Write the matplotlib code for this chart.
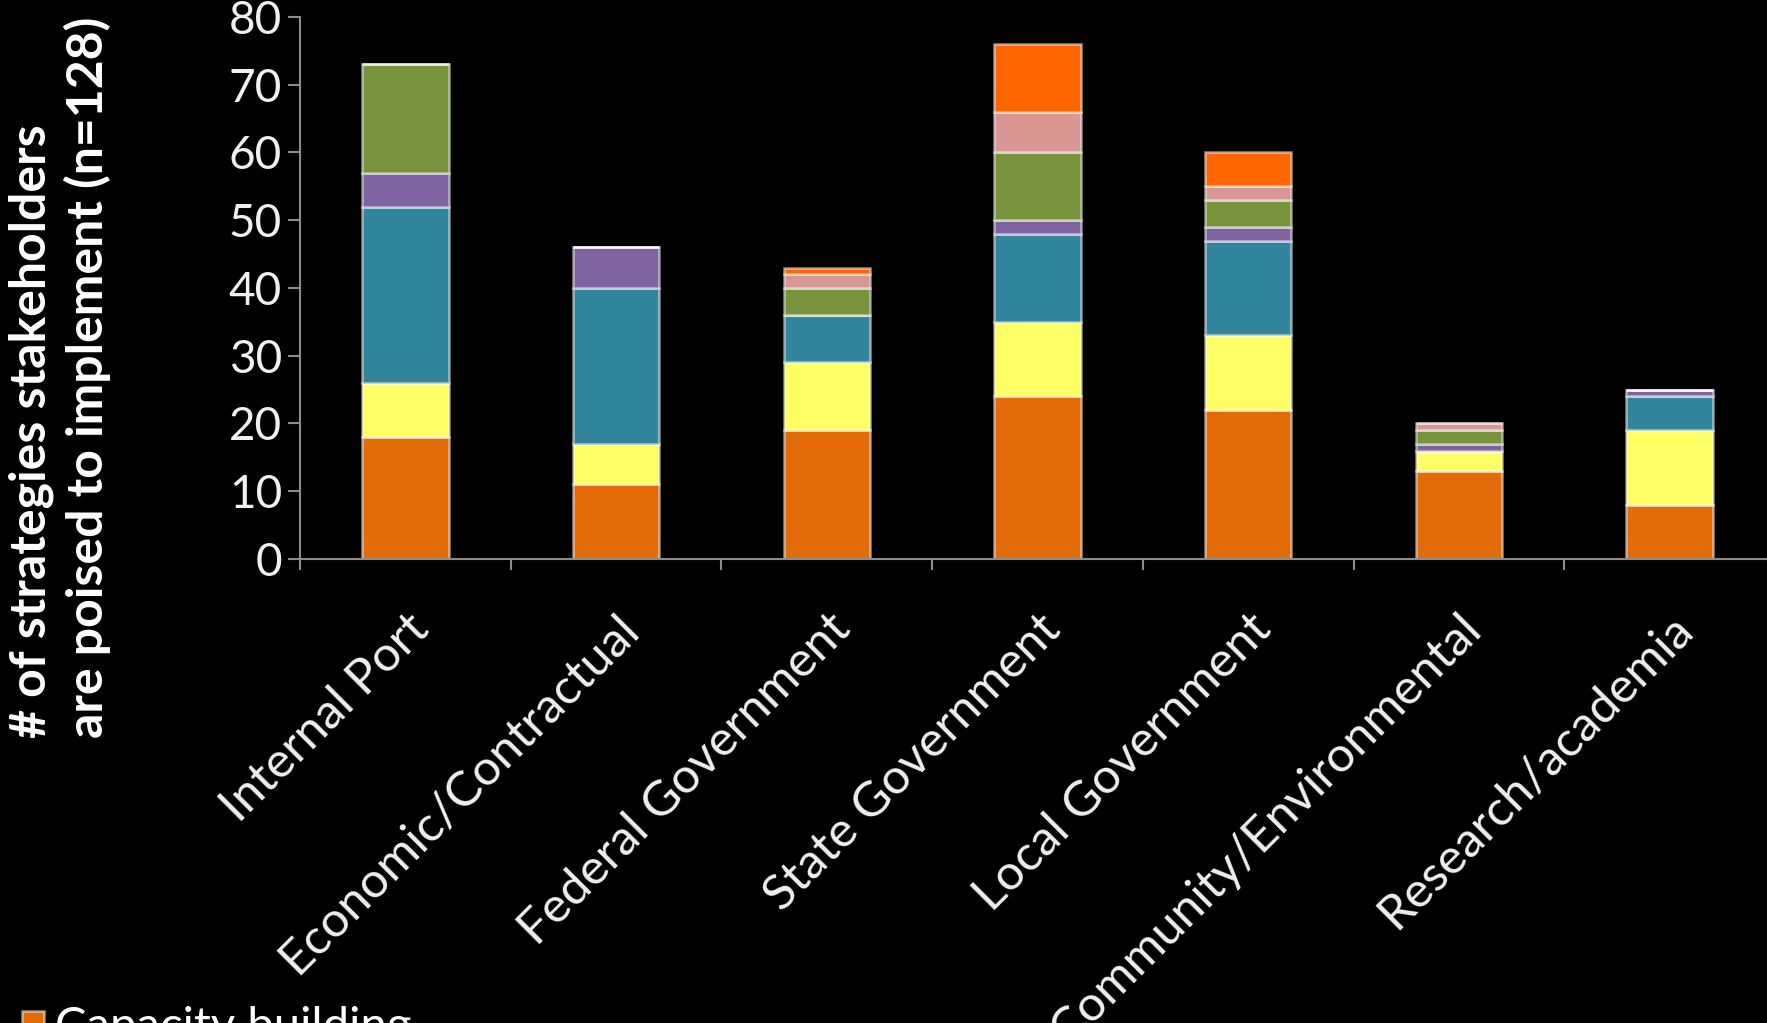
import matplotlib
matplotlib.use("Agg")
import matplotlib.pyplot as plt
import matplotlib.transforms as mtransforms
import numpy as np

plt.rcParams['font.family'] = ['Lato', 'DejaVu Sans']

categories = ['Internal Port', 'Economic/Contractual', 'Federal Government',
              'State Government', 'Local Government', 'Community/Environmental',
              'Research/academia']

# stacked segments, bottom to top
capacity = [18, 11, 19, 24, 22, 13, 8]
s_yellow = [8, 6, 10, 11, 11, 3, 11]
s_teal = [26, 23, 7, 13, 14, 0, 5]
s_purple = [5, 6, 0, 2, 2, 1, 1]
s_green = [16, 0, 4, 10, 4, 2, 0]
s_pink = [0, 0, 2, 6, 2, 1, 0]
s_orange = [0, 0, 1, 10, 5, 0, 0]

series = [capacity, s_yellow, s_teal, s_purple, s_green, s_pink, s_orange]
names = ['Capacity building', 'Series 2', 'Series 3', 'Series 4',
         'Series 5', 'Series 6', 'Series 7']
colors = ['#E36C09', '#FFFF66', '#31859C', '#8064A2', '#77933C', '#D99694', '#FF6600']

fig = plt.figure(figsize=(17.67, 10.23), dpi=100, facecolor='black')
ax = fig.add_axes([0.1698, 0.4536, 0.8347, 0.5298])
ax.set_facecolor('black')

x = np.arange(len(categories))
bottom = np.zeros(len(categories))
handles = []
for vals, name, c in zip(series, names, colors):
    b = ax.bar(x, vals, width=0.41, bottom=bottom, color=c,
               edgecolor=(1, 1, 1, 0.55), linewidth=1.8, label=name)
    handles.append(b)
    bottom += np.array(vals)

ax.set_xlim(-0.5, len(categories) - 0.5)
ax.set_ylim(0, 80)
ax.set_yticks(range(0, 81, 10))
ax.tick_params(axis='y', colors='#8c8c8c', labelcolor='#f0f0f0',
               labelsize=33, length=9, width=1.5, direction='out', pad=4)
ax.set_xticks(x)
ax.set_xticklabels(categories, rotation=45, ha='right', rotation_mode='anchor',
                   fontsize=35.5, color='#f0f0f0')
shift = mtransforms.ScaledTranslation(-0.1, 0, fig.dpi_scale_trans)
for lab in ax.get_xticklabels():
    lab.set_transform(lab.get_transform() + shift)
ax.set_xticks(np.arange(len(categories) + 1) - 0.5, minor=True)
ax.tick_params(axis='x', which='major', length=0, pad=34)
ax.tick_params(axis='x', which='minor', colors='#8c8c8c', length=8, width=1.5)

for s in ['top', 'right']:
    ax.spines[s].set_visible(False)
for s in ['left', 'bottom']:
    ax.spines[s].set_color('#8c8c8c')
    ax.spines[s].set_linewidth(1.5)

fig.text(0.034, 0.279, '# of strategies stakeholders\nare poised to implement (n=128)',
         rotation=90, ha='center', va='bottom', multialignment='left',
         fontsize=36, fontweight='bold', color='white', linespacing=1.25)

fig.legend(handles=[handles[0]], labels=[names[0]], loc='upper left',
           bbox_to_anchor=(0.002, 0.035), frameon=False, fontsize=34,
           labelcolor='white', handlelength=0.45, handleheight=0.45,
           handletextpad=0.25, borderaxespad=0)

fig.savefig('out.png', dpi=100, facecolor='black')
